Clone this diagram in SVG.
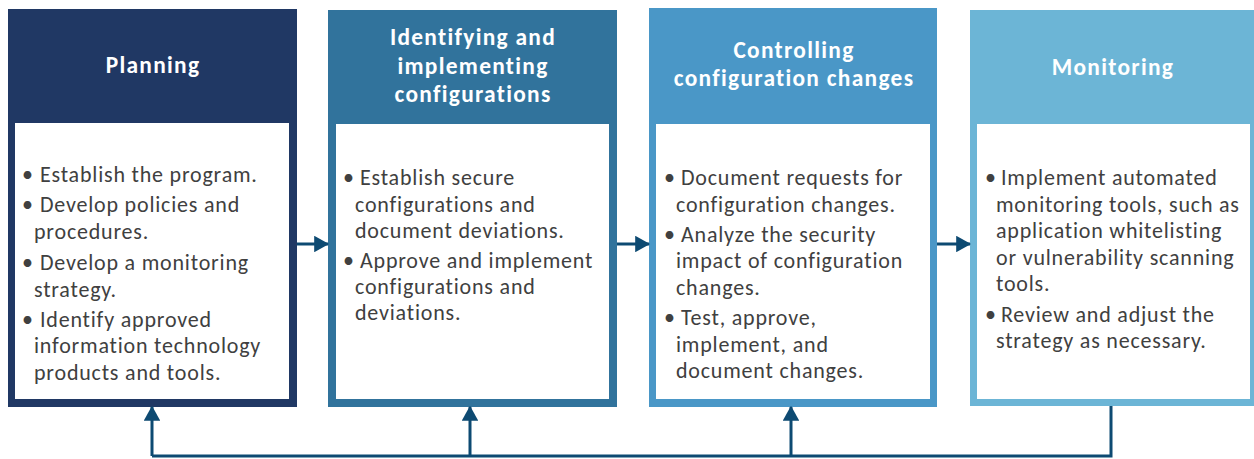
<svg xmlns="http://www.w3.org/2000/svg" width="1254" height="459" viewBox="0 0 1254 459">
<style>
.hd{font-family:Carlito,Lato,"Liberation Sans",sans-serif;font-weight:bold;font-size:23.4px;letter-spacing:1.3px;fill:#ffffff;text-anchor:middle}
.tx{font-family:Carlito,Lato,"Liberation Sans",sans-serif;font-size:22px;letter-spacing:0.8px;fill:#404040}
.in{fill:#ffffff}
.cn{fill:none;stroke:#0d4a72;stroke-width:3}
</style>
<defs>
<marker id="ah" markerWidth="5" markerHeight="5.5" refX="4.6" refY="2.75" orient="auto" markerUnits="strokeWidth">
<path d="M0,0 L5,2.75 L0,5.5 Z" fill="#0d4a72"/>
</marker>
</defs>
<rect width="1254" height="459" fill="#ffffff"/>
<g id="node-planning">
<rect x="8" y="9" width="289" height="398" fill="#203864"/>
<rect class="in" x="15" y="123" width="274" height="276"/>
<text class="hd" x="153" y="73">Planning</text>
<text class="tx"><tspan x="22" y="182">•</tspan><tspan x="40" y="182">Establish the program.</tspan><tspan x="22" y="212">•</tspan><tspan x="40" y="212">Develop policies and</tspan><tspan x="34" y="239">procedures.</tspan><tspan x="22" y="270">•</tspan><tspan x="40" y="270">Develop a monitoring</tspan><tspan x="34" y="297">strategy.</tspan><tspan x="22" y="327">•</tspan><tspan x="40" y="327">Identify approved</tspan><tspan x="34" y="353">information technology</tspan><tspan x="34" y="380">products and tools.</tspan></text>
</g>
<g id="node-identifying">
<rect x="328" y="10" width="289" height="397" fill="#31739c"/>
<rect class="in" x="336" y="124" width="273" height="275"/>
<text class="hd"><tspan x="473" y="45">Identifying and</tspan><tspan x="473" y="74">implementing</tspan><tspan x="473" y="102">configurations</tspan></text>
<text class="tx"><tspan x="343" y="185">•</tspan><tspan x="360" y="185">Establish secure</tspan><tspan x="355" y="212">configurations and</tspan><tspan x="355" y="238">document deviations.</tspan><tspan x="343" y="268">•</tspan><tspan x="360" y="268">Approve and implement</tspan><tspan x="355" y="294">configurations and</tspan><tspan x="355" y="320">deviations.</tspan></text>
</g>
<g id="node-controlling">
<rect x="649" y="8" width="288" height="399" fill="#4a97c7"/>
<rect class="in" x="656" y="124" width="274" height="275"/>
<text class="hd"><tspan x="794" y="58">Controlling</tspan><tspan x="794" y="86">configuration changes</tspan></text>
<text class="tx"><tspan x="664" y="185">•</tspan><tspan x="681" y="185">Document requests for</tspan><tspan x="676" y="212">configuration changes.</tspan><tspan x="664" y="242">•</tspan><tspan x="681" y="242">Analyze the security</tspan><tspan x="676" y="268">impact of configuration</tspan><tspan x="676" y="295">changes.</tspan><tspan x="664" y="325">•</tspan><tspan x="681" y="325">Test, approve,</tspan><tspan x="676" y="352">implement, and</tspan><tspan x="676" y="378">document changes.</tspan></text>
</g>
<g id="node-monitoring">
<rect x="970" y="10" width="286" height="396" fill="#6cb5d6"/>
<rect class="in" x="977" y="124" width="273" height="275"/>
<text class="hd" x="1113" y="75">Monitoring</text>
<text class="tx"><tspan x="985" y="185">•</tspan><tspan x="1001" y="185">Implement automated</tspan><tspan x="996" y="212">monitoring tools, such as</tspan><tspan x="996" y="238">application whitelisting</tspan><tspan x="996" y="265">or vulnerability scanning</tspan><tspan x="996" y="291">tools.</tspan><tspan x="985" y="322">•</tspan><tspan x="1001" y="322">Review and adjust the</tspan><tspan x="996" y="348">strategy as necessary.</tspan></text>
</g>
<g id="connectors">
<line class="cn" x1="297" y1="244" x2="328" y2="244" marker-end="url(#ah)"/>
<line class="cn" x1="617" y1="244" x2="649" y2="244" marker-end="url(#ah)"/>
<line class="cn" x1="937" y1="244" x2="970" y2="244" marker-end="url(#ah)"/>
<polyline class="cn" points="1111,406 1111,456 152,456"/>
<line class="cn" x1="152" y1="456" x2="152" y2="407" marker-end="url(#ah)"/>
<line class="cn" x1="470" y1="456" x2="470" y2="407" marker-end="url(#ah)"/>
<line class="cn" x1="791" y1="456" x2="791" y2="407" marker-end="url(#ah)"/>
</g>
</svg>
